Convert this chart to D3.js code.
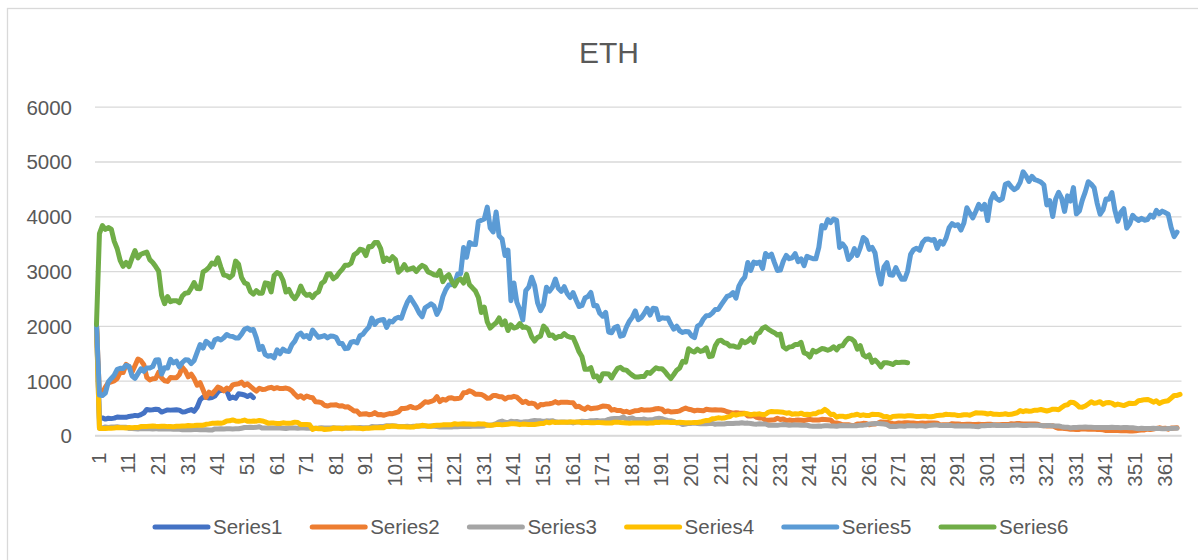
<!DOCTYPE html>
<html>
<head>
<meta charset="utf-8">
<script src="https://cdn.jsdelivr.net/npm/d3@7"></script>
<style>
  html, body { margin: 0; padding: 0; background: #ffffff; }
  svg { display: block; }
  text { font-family: "Liberation Sans", Arial, sans-serif; fill: #595959; }
</style>
</head>
<body>
<svg id="chart" width="1198" height="560"></svg>
<script>
// ---------- DATA ----------
const title = "ETH";
const seriesNames = ["Series1", "Series2", "Series3", "Series4", "Series5", "Series6"];
const seriesColors = ["#4472C4", "#ED7D31", "#A5A5A5", "#FFC000", "#5B9BD5", "#70AD47"];
const yTicks = [0, 1000, 2000, 3000, 4000, 5000, 6000];
const categoryCount = 367;
const categories = d3.range(1, categoryCount + 1);
const xTickLabels = categories.filter(c => (c - 1) % 10 === 0);

const series1 = [2017,
  309,321,299,315,308,317,338,333,331,332,348,354,367,360,381,410,475,466,471,480,473,428,
  447,467,463,466,470,463,429,434,456,474,442,515,651,703,696,684,694,720,795,827,819,821,677,701,679,762,753,740,713,741,692];

const series2 = [2018, 756,
  772,884,962,980,997,1041,1153,1148,1299,1255,1154,1273,1396,1366,1292,1061,1014,1036,1039,1155,1050,999,987,1059,1056,1053,1111,1245,1181,1071,1118,
  1036,917,964,834,697,790,758,817,883,860,815,865,840,922,937,944,974,914,943,895,850,810,862,841,845,868,879,855,
  872,856,857,866,849,815,752,700,726,682,720,699,690,614,610,600,552,538,555,557,560,539,543,520,523,487,448,446,385,394,397,
  379,386,417,380,383,370,385,400,399,415,430,492,493,501,531,509,502,524,567,615,605,621,643,708,619,661,645,683,689,670,
  673,687,779,785,816,793,752,751,750,722,679,686,731,728,708,708,666,696,697,715,700,650,601,625,585,591,577,517,565,563,577,
  580,591,618,592,609,607,605,600,596,525,532,497,476,519,488,497,500,517,537,536,526,463,473,455,458,429,441,419,436,453,
  454,475,463,467,467,474,488,491,480,433,449,430,433,436,450,479,500,478,469,449,462,457,450,479,471,464,470,467,466,456,433,
  420,408,416,409,407,407,355,356,364,333,319,318,278,278,282,287,316,293,300,272,281,274,277,283,280,274,286,294,284,284,282,
  295,294,289,285,229,229,215,196,197,197,184,183,212,210,222,220,196,209,210,225,248,241,244,229,218,215,229,222,231,233,
  230,227,220,222,227,225,228,229,228,224,190,196,197,196,216,210,208,204,203,204,206,203,203,204,203,203,205,205,196,197,198,
  201,201,199,214,210,218,217,210,208,212,211,209,205,181,180,174,175,177,149,131,138,126,123,113,115,108,111,123,119,113,
  118,116,108,110,103,91,93,91,93,90,88,90,86,84,84,85,95,100,101,116,110,117,129,140,130,133,116,137,136,141];

const series3 = [2019, 133,
  140,155,148,154,155,158,151,150,151,126,126,122,117,128,122,123,123,120,125,117,117,119,117,118,116,116,113,106,104,108,107,
  108,111,106,106,106,102,100,119,119,124,120,122,121,120,121,122,133,145,145,150,146,149,159,135,139,137,137,136,
  137,136,131,127,138,137,138,134,138,136,133,134,133,133,136,142,139,137,139,140,136,137,137,136,134,135,142,141,144,142,141,
  142,164,160,158,166,164,178,180,176,173,165,164,163,167,161,167,167,173,173,173,170,172,170,165,154,155,155,156,153,162,
  160,162,166,163,162,170,173,170,170,173,194,187,197,216,249,263,242,234,261,250,255,243,245,249,251,265,272,271,268,255,268,
  265,270,251,242,247,246,244,246,230,245,247,260,255,255,269,269,274,264,269,272,294,306,308,310,316,337,294,310,320,291,
  292,290,301,283,287,288,307,313,307,287,275,268,256,227,229,199,211,224,221,227,219,213,213,216,220,220,206,212,211,211,218,
  217,218,224,223,233,225,226,220,211,207,216,210,209,187,188,185,185,194,200,197,187,191,194,190,186,188,187,173,169,168,172,
  171,178,178,175,173,169,178,181,180,179,178,180,180,188,189,197,208,210,220,218,215,211,200,165,170,166,174,174,169,181,
  176,180,174,176,176,170,180,186,193,191,181,181,181,186,180,175,177,172,172,175,174,171,162,161,180,180,184,183,190,183,183,
  182,183,181,186,189,191,186,183,184,188,185,187,186,184,180,181,183,176,175,174,161,150,152,139,147,147,152,150,155,151,
  150,148,147,146,148,148,147,150,147,145,143,144,145,141,142,132,122,133,128,128,127,132,128,128,125,125,126,128,134,131];

const series4 = [2020, 129,
  130,127,134,134,136,144,143,141,138,144,142,146,144,165,166,164,171,174,167,166,169,168,162,162,160,168,170,175,174,184,180,
  183,189,189,188,204,212,222,224,228,222,236,265,268,284,265,260,267,282,259,258,265,262,274,265,248,225,227,226,218,
  218,231,224,224,228,244,237,199,201,200,195,112,133,124,125,110,115,117,136,132,133,122,135,138,136,138,131,131,125,132,133,
  136,141,141,144,143,170,164,173,170,158,158,161,156,157,153,172,171,186,180,170,171,182,185,187,194,197,196,197,215,206,
  212,215,210,208,206,204,213,212,211,188,186,190,199,203,194,200,207,214,214,209,198,208,206,200,203,201,209,219,220,245,231,
  248,237,244,244,241,242,245,246,244,248,231,237,238,234,231,235,235,232,229,229,228,243,244,235,232,230,222,226,229,226,
  230,226,225,229,228,241,239,247,243,241,239,242,239,241,238,233,232,235,239,236,245,262,275,279,305,311,322,317,318,335,345,
  387,370,386,390,401,395,379,391,390,395,380,389,427,438,433,433,429,423,407,416,388,396,391,408,383,386,382,395,399,428,434,
  477,440,385,386,335,353,352,337,351,368,374,387,365,377,364,365,389,384,385,370,342,345,321,349,352,354,357,353,360,360,
  354,346,346,352,353,341,341,351,366,370,375,387,381,379,377,366,368,377,380,368,392,414,409,412,406,393,404,388,386,383,386,
  396,384,387,402,414,454,435,453,444,449,462,463,475,461,448,460,481,479,471,510,549,560,608,603,568,518,517,538,576,615,
  587,598,616,569,596,601,591,554,573,560,546,568,590,586,589,636,643,654,659,638,608,634,585,612,626,635,683,730,731,751];

const series5 = [2021, 737,
  730,775,979,1041,1100,1208,1225,1224,1281,1262,1090,1043,1130,1218,1171,1233,1230,1257,1377,1382,1121,1236,1230,1391,1324,1357,1253,1332,1382,1376,1314,
  1369,1515,1660,1594,1718,1677,1614,1746,1768,1744,1783,1843,1814,1805,1779,1781,1849,1937,1960,1919,1935,1781,1570,1626,1475,1446,1459,1416,
  1565,1492,1575,1541,1533,1655,1723,1834,1868,1799,1826,1772,1924,1854,1791,1806,1823,1782,1814,1812,1787,1681,1678,1585,1593,1702,1716,1691,1819,1846,1919,
  1977,2143,2028,2093,2107,2118,1971,2088,2072,2135,2157,2139,2299,2435,2519,2431,2344,2237,2166,2330,2364,2403,2363,2211,2316,2534,2662,2746,2756,2772,
  2945,2950,3431,3253,3522,3490,3484,3903,3928,3952,4168,3785,3715,4079,3641,3587,3283,3381,2460,2784,2430,2296,2109,2643,2706,2888,2736,2419,2280,2385,2707,
  2634,2706,2855,2688,2630,2715,2590,2517,2608,2472,2353,2372,2508,2537,2610,2367,2372,2231,2178,2246,1889,1875,1971,1990,1812,1829,1978,2085,2160,2274,
  2113,2150,2226,2321,2198,2324,2315,2117,2147,2139,2146,2033,1940,1994,1911,1880,1898,1895,1820,1787,1995,2025,2125,2187,2191,2233,2299,2299,2383,2461,2540,
  2558,2609,2506,2725,2827,2890,3158,3014,3163,3141,3164,3049,3322,3266,3310,3154,3012,3018,3182,3286,3226,3243,3320,3173,3224,3100,3270,3244,3227,3224,3433,
  3834,3790,3940,3887,3952,3927,3431,3497,3427,3212,3270,3410,3286,3429,3614,3570,3397,3433,3330,2977,2764,3077,3155,2931,2925,3063,2947,2851,2850,3001,
  3307,3391,3418,3381,3518,3581,3587,3563,3576,3415,3545,3493,3606,3790,3867,3830,3847,3748,3877,4155,4057,3972,4087,4217,4132,4217,3923,4287,4414,4325,4288,
  4324,4584,4608,4537,4486,4521,4620,4812,4735,4636,4730,4667,4649,4625,4576,4207,4287,3996,4316,4437,4332,4089,4373,4279,4523,4044,4097,4294,4446,4631,
  4587,4518,4242,4038,4116,4317,4311,4432,4110,3909,4071,4138,3784,3862,4018,3962,3923,3962,3929,3941,4023,3983,4108,4047,4094,4068,4037,3796,3630,3713];

const series6 = [2022, 3683,
  3829,3762,3795,3766,3543,3408,3195,3088,3157,3083,3238,3373,3242,3307,3327,3347,3210,3157,3083,3000,2560,2405,2537,2441,2460,2460,2424,2546,2597,2603,2688,
  2792,2682,2679,2986,3019,3066,3148,3124,3244,3075,2927,2918,2881,2931,3183,3125,2882,2786,2764,2627,2580,2642,2596,2597,2786,2775,2619,2920,
  2972,2948,2834,2618,2664,2555,2496,2575,2727,2608,2558,2576,2518,2590,2620,2772,2814,2945,2950,2860,2897,2972,3031,3108,3106,3143,3296,3331,3398,3386,3282,
  3449,3446,3522,3521,3411,3174,3236,3192,3262,3212,2980,3030,3118,3020,3041,3060,2992,3057,3105,3077,2986,2964,2934,2922,3009,2808,2889,2936,2818,2730,
  2827,2857,2783,2940,2749,2694,2636,2518,2245,2343,2072,1961,2014,2056,2145,2023,2090,1915,2018,1961,1976,2043,1973,1978,1944,1802,1724,1792,1813,1996,1942,
  1823,1834,1775,1805,1806,1859,1814,1793,1789,1665,1529,1436,1208,1207,1237,1069,1087,996,1127,1127,1124,1051,1144,1225,1243,1199,1193,1144,1099,1067,
  1067,1075,1075,1151,1134,1186,1237,1216,1220,1167,1097,1039,1113,1192,1233,1354,1339,1582,1542,1523,1576,1535,1551,1597,1439,1450,1636,1726,1738,1695,1679,
  1632,1634,1616,1609,1731,1692,1721,1775,1701,1852,1879,1958,1983,1935,1903,1877,1834,1849,1618,1578,1616,1622,1660,1660,1699,1508,1491,1432,1553,1523,1553,
  1586,1577,1556,1577,1618,1563,1631,1636,1719,1775,1762,1717,1576,1639,1471,1432,1470,1335,1377,1324,1252,1328,1328,1317,1295,1335,1330,1336,1335,1328];

const allSeries = [series1, series2, series3, series4, series5, series6];

// ---------- CHART ----------
const svg = d3.select("#chart");
const plot = { left: 95, right: 1181.5, top: 106.7, bottom: 435.5 };

const x = d3.scalePoint().domain(categories).range([plot.left, plot.right]).padding(0.5);
const y = d3.scaleLinear().domain([0, 6000]).range([plot.bottom, plot.top]);

// chart area border (right/bottom edges fall outside the picture)
svg.append("rect")
  .attr("x", 7.5).attr("y", 8.5).attr("width", 1220).attr("height", 600)
  .attr("fill", "none").attr("stroke", "#D9D9D9").attr("stroke-width", 1.3);

// title
svg.append("text")
  .attr("x", 609).attr("y", 63)
  .attr("text-anchor", "middle")
  .style("font-size", "30px")
  .text(title);

// gridlines + y labels via axis
const yAxis = d3.axisLeft(y).tickValues(yTicks).tickSize(-(plot.right - plot.left)).tickPadding(23).tickFormat(d3.format("d"));
const gy = svg.append("g").attr("transform", `translate(${plot.left},0)`).call(yAxis);
gy.select(".domain").remove();
gy.selectAll(".tick line").attr("stroke", "#D9D9D9").attr("stroke-width", 1.3);
gy.selectAll(".tick text")
  .style("font-size", "20.5px")
  .style("fill", "#595959")
  .attr("dy", "0.36em");

// x axis with rotated labels
const xAxis = d3.axisBottom(x).tickValues(xTickLabels).tickSize(0).tickPadding(0);
const gx = svg.append("g").attr("transform", `translate(0,${plot.bottom})`).call(xAxis);
gx.select(".domain").attr("stroke", "#D9D9D9").attr("stroke-width", 1.3)
  .attr("d", `M${plot.left},0H${plot.right}`);
gx.selectAll(".tick text")
  .style("font-size", "20.5px")
  .style("fill", "#595959")
  .attr("text-anchor", "end")
  .attr("transform", "translate(1.5,17) rotate(-90)")
  .attr("x", 0).attr("y", 0)
  .attr("dy", "0.36em");

// lines
const line = d3.line()
  .x((d, i) => x(categories[i]))
  .y(d => y(d));

allSeries.forEach((s, k) => {
  svg.append("path")
    .datum(s)
    .attr("fill", "none")
    .attr("stroke", seriesColors[k])
    .attr("stroke-width", 5)
    .attr("stroke-linejoin", "round")
    .attr("stroke-linecap", "round")
    .attr("d", line);
});

// legend
const legend = svg.append("g");
seriesNames.forEach((name, k) => {
  const lx = 155 + k * 157.2;
  legend.append("line")
    .attr("x1", lx).attr("x2", lx + 53)
    .attr("y1", 527).attr("y2", 527)
    .attr("stroke", seriesColors[k])
    .attr("stroke-width", 5)
    .attr("stroke-linecap", "round");
  legend.append("text")
    .attr("x", lx + 58).attr("y", 527)
    .attr("dy", "0.36em")
    .style("font-size", "20.5px")
    .text(name);
});
</script>
</body>
</html>
